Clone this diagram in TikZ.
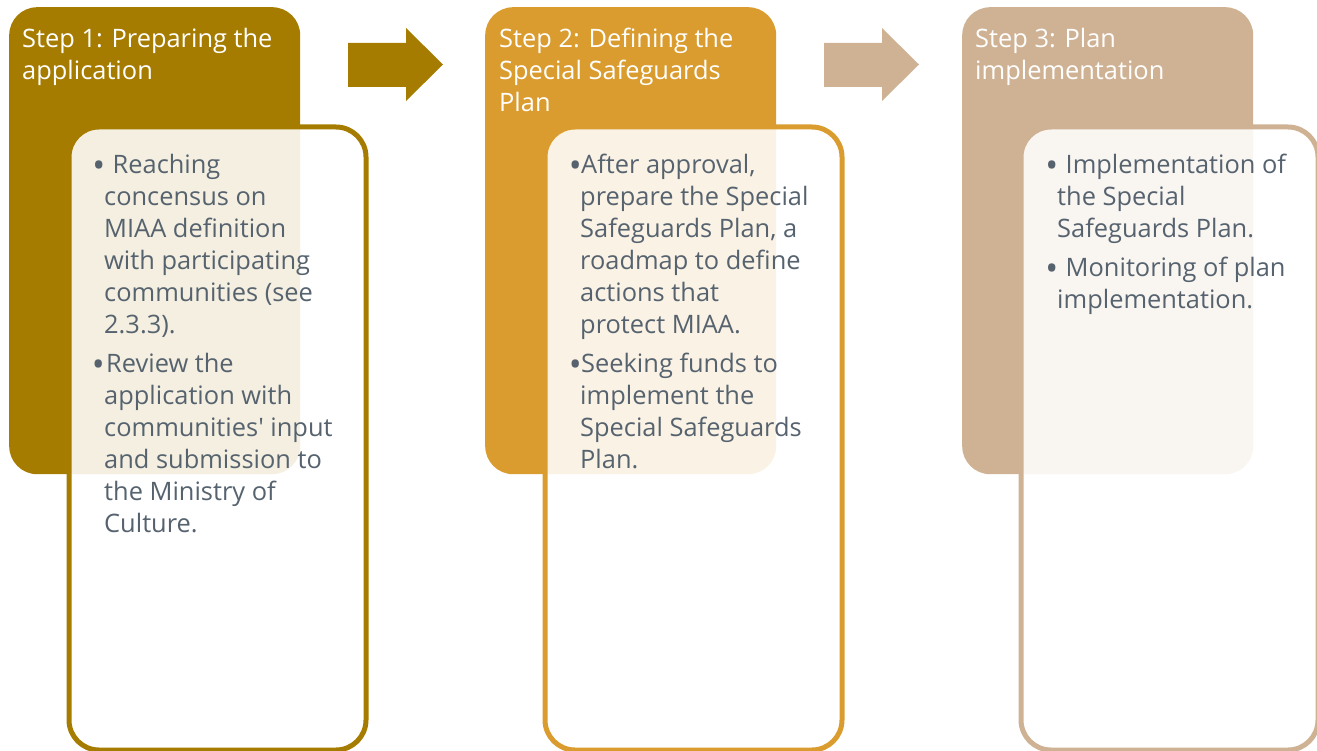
\documentclass[tikz,border=0pt]{standalone}
\usepackage{fontspec}
\setmainfont{Open Sans}
\usepackage{array}
\usepackage{graphicx}
\definecolor{cA}{HTML}{A67C00}
\definecolor{cB}{HTML}{DA9C2E}
\definecolor{cC}{HTML}{CFB294}
\definecolor{txt}{HTML}{56636F}
% bullet centred #1 left of the line start, text starting #2 after the bullet centre
\newcommand\bl[2]{\hspace*{-#1}\makebox[0pt]{\raisebox{-4pt}{\scalebox{1.35}{\textbullet}}}\hspace*{#2}}
\tikzset{
  hdr/.style={rectangle, rounded corners=28pt, minimum width=291pt, minimum height=467pt, anchor=north west, inner sep=0pt},
  bodybox/.style={rectangle, rounded corners=30pt, line width=5pt, fill=white, fill opacity=0.88, minimum width=297pt, minimum height=623pt, anchor=north west, inner sep=0pt},
  htext/.style={anchor=base west, inner sep=0pt, text=white, font=\fontsize{25.4}{32}\selectfont},
  btext/.style={anchor=base west, inner sep=0pt, text=txt, font=\fontsize{25.4}{32}\selectfont},
}
\renewcommand\arraystretch{1}
\begin{document}
\begin{tikzpicture}[x=1pt,y=-1pt]
\useasboundingbox (0,0) rectangle (1317,751);
% Step 1
\node[hdr, fill=cA] (h1) at (9,7) {};
\node[htext] (t1) at (22,48) {\begin{tabular}[t]{@{}l@{}}Step 1: Preparing the\\ application\end{tabular}};
\node[bodybox, draw=cA] (b1) at (66.5,124.5) {};
\node[btext] (x1) at (104,174) {\begin{tabular}[t]{@{}l@{}}\bl{5.5pt}{14pt}Reaching\\ concensus on\\ MIAA definition\\ with participating\\ communities (see\\ 2.3.3).\\[7pt] \bl{6pt}{8pt}Review the\\ application with\\ communities\textquotesingle\ input\\ and submission to\\ the Ministry of\\ Culture.\end{tabular}};
% arrow 1
\fill[cA] (348,43) -- (406,43) -- (406,28) -- (443,64.5) -- (406,101) -- (406,87) -- (348,87) -- cycle;
% Step 2
\node[hdr, fill=cB] (h2) at (485,7) {};
\node[htext] (t2) at (499,48) {\begin{tabular}[t]{@{}l@{}}Step 2: Defining the\\ Special Safeguards\\ Plan\end{tabular}};
\node[bodybox, draw=cB] (b2) at (542.5,124.5) {};
\node[btext] (x2) at (580,174) {\begin{tabular}[t]{@{}l@{}}\bl{5pt}{6pt}After approval,\\ prepare the Special\\ Safeguards Plan, a\\ roadmap to define\\ actions that\\ protect MIAA.\\[7pt] \bl{5pt}{6pt}Seeking funds to\\ implement the\\ Special Safeguards\\ Plan.\end{tabular}};
% arrow 2
\fill[cC] (824,43) -- (882,43) -- (882,28) -- (919,64.5) -- (882,101) -- (882,87) -- (824,87) -- cycle;
% Step 3
\node[hdr, fill=cC] (h3) at (962,7) {};
\node[htext] (t3) at (975,48) {\begin{tabular}[t]{@{}l@{}}Step 3: Plan\\ implementation\end{tabular}};
\node[bodybox, draw=cC] (b3) at (1018.5,124.5) {};
\node[btext] (x3) at (1057,174) {\begin{tabular}[t]{@{}l@{}}\bl{5.5pt}{14pt}Implementation of\\ the Special\\ Safeguards Plan.\\[7pt] \bl{5.5pt}{14pt}Monitoring of plan\\ implementation.\end{tabular}};
\end{tikzpicture}
\end{document}
